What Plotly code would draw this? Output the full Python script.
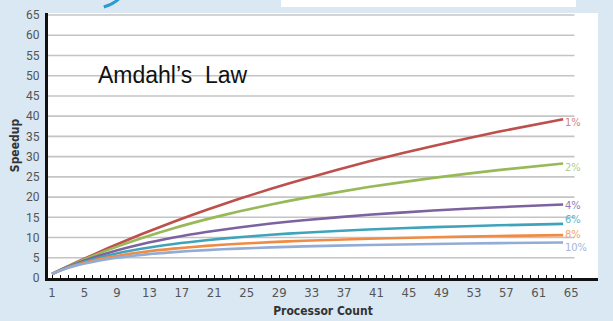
import plotly.graph_objects as go

# Processor counts sampled along each curve
processors = [1, 2, 4, 8, 12, 16, 20, 24, 28, 32, 40, 48, 56, 64]

# Speedup for each serial fraction
speedup_1 = [1.00, 1.98, 3.88, 7.48, 10.81, 13.91, 16.81, 19.51, 22.05, 24.43, 28.78, 32.65, 36.13, 39.26]
speedup_2 = [1.00, 1.96, 3.77, 7.02, 9.84, 12.31, 14.49, 16.44, 18.18, 19.75, 22.47, 24.74, 26.67, 28.32]
speedup_4 = [1.00, 1.92, 3.57, 6.25, 8.33, 10.00, 11.36, 12.50, 13.46, 14.29, 15.63, 16.67, 17.50, 18.18]
speedup_6 = [1.00, 1.89, 3.39, 5.63, 7.23, 8.42, 9.35, 10.08, 10.69, 11.19, 11.98, 12.57, 13.02, 13.39]
speedup_8 = [1.00, 1.85, 3.23, 5.13, 6.38, 7.27, 7.94, 8.45, 8.86, 9.20, 9.71, 10.08, 10.37, 10.60]
speedup_10 = [1.00, 1.82, 3.08, 4.71, 5.71, 6.40, 6.90, 7.27, 7.57, 7.81, 8.16, 8.42, 8.62, 8.77]

series_labels = ["1%", "2%", "4%", "6%", "8%", "10%"]
series_values = [speedup_1, speedup_2, speedup_4, speedup_6, speedup_8, speedup_10]
line_colors = ["#bd4f4c", "#98b957", "#7d62a0", "#3fa3bb", "#f08b45", "#93acd6"]
label_colors = ["#cf8582", "#b3cc88", "#8f7cb3", "#5eb3ca", "#f2a66f", "#a5b6da"]
label_shifts = [-3, -4, -1, 4, 1, -5]

x_ticks = list(range(1, 66, 4))
y_ticks = list(range(0, 66, 5))

X_RANGE = [0.5, 68.3]
Y_RANGE = [0, 65.5]
BG = "#d9e8f3"
NARROW = "Liberation Sans Narrow, DejaVu Sans Condensed, Roboto, sans-serif"

fig = go.Figure()

for name, vals, col in zip(series_labels, series_values, line_colors):
    fig.add_trace(go.Scatter(
        x=processors, y=vals, mode="lines", name=name,
        line=dict(color=col, width=2.6, shape="spline", smoothing=0.6),
        showlegend=False, hoverinfo="skip",
    ))

# End-of-line percentage labels
for name, vals, col, dy in zip(series_labels, series_values, label_colors, label_shifts):
    fig.add_annotation(
        x=processors[-1], y=vals[-1], xref="x", yref="y",
        text=name, showarrow=False, xanchor="left", yanchor="middle",
        xshift=0, yshift=dy,
        font=dict(family=NARROW, size=11, color=col),
    )

# Horizontal gridlines (stop short of the right edge of the white panel)
for v in y_ticks[1:]:
    fig.add_shape(type="line", xref="x", yref="y",
                  x0=X_RANGE[0], x1=65.4, y0=v, y1=v,
                  line=dict(color="#c4c4c4", width=1.6), layer="below")

# White strip and swoosh along the top edge
fig.add_shape(type="rect", xref="paper", yref="paper",
              x0=(282 - 48) / 552, x1=(578 - 48) / 552,
              y0=(278 - 7) / 265, y1=(278 + 1) / 265,
              fillcolor="white", line=dict(width=0), layer="below")
fig.add_shape(type="path", xref="paper", yref="paper",
              path="M %f %f Q %f %f %f %f" % (
                  (104 - 48) / 552, (278 - 7) / 265,
                  (114 - 48) / 552, (278 - 4) / 265,
                  (119 - 48) / 552, (278 + 1) / 265),
              line=dict(color="#2a9ad4", width=3))

fig.add_annotation(
    x=(96 - 48) / 552, y=(278 - 75) / 265, xref="paper", yref="paper",
    text="Amdahl\u2019s  Law", showarrow=False, xanchor="left", yanchor="middle",
    font=dict(family="Liberation Sans, Arial, sans-serif", size=23, color="#111111"),
)

fig.update_layout(
    width=613, height=321,
    margin=dict(l=48, r=15, t=13, b=43),
    paper_bgcolor=BG, plot_bgcolor="white",
    xaxis=dict(
        range=X_RANGE, tickmode="array", tickvals=x_ticks,
        ticktext=[str(t) for t in x_ticks],
        showgrid=False, zeroline=False, automargin=False,
        showline=True, linecolor="#111111", linewidth=3,
        ticks="inside", ticklen=3, tickcolor="#111111", tickwidth=1,
        minor=dict(tickmode="array", tickvals=list(range(1, 66)),
                   ticks="inside", ticklen=3, tickcolor="#111111", tickwidth=1),
        tickfont=dict(family=NARROW, size=13, color="#555555"),
        title=dict(text="<b>Processor Count</b>", standoff=9,
                   font=dict(family=NARROW, size=12, color="#333333")),
    ),
    yaxis=dict(
        range=Y_RANGE, tickmode="array", tickvals=y_ticks,
        showgrid=False, zeroline=False, automargin=False,
        showline=True, linecolor="#111111", linewidth=3,
        ticks="", ticklabelstandoff=3,
        tickfont=dict(family="Roboto, Liberation Sans, sans-serif", size=12, color="#555555"),
        title=dict(text="<b>Speedup</b>", standoff=4,
                   font=dict(family=NARROW, size=12, color="#333333")),
    ),
)

fig.write_html("out.html")
